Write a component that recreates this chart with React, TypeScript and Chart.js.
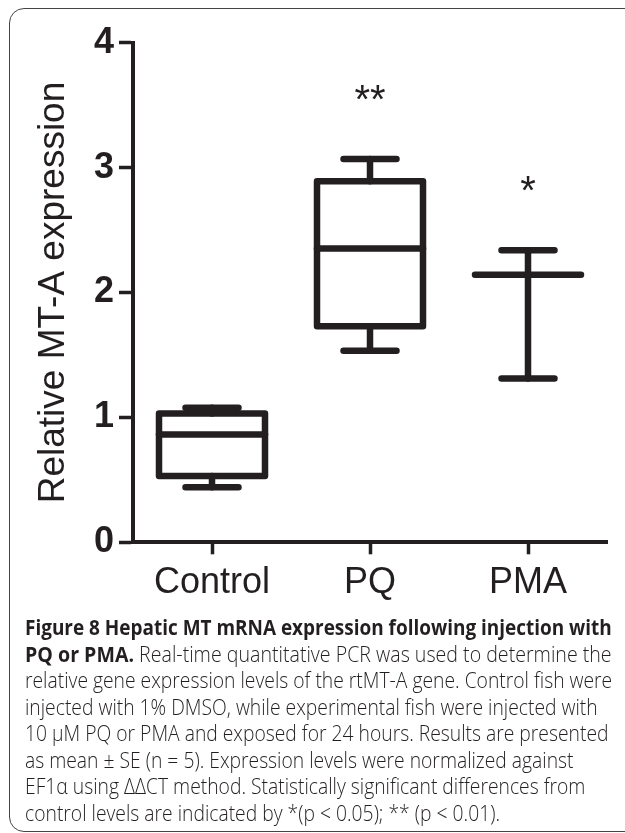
import React, { useEffect, useLayoutEffect, useRef, useState } from "react";
import { Chart, registerables } from "chart.js";

Chart.register(...registerables);

// ---- data ----
const categories = ["Control", "PQ", "PMA"];
const whiskerMin = [0.44, 1.533, 1.312];
const quartile1 = [0.53, 1.73, 2.142];
const median = [0.864, 2.352, 2.142];
const quartile3 = [1.032, 2.89, 2.142];
const whiskerMax = [1.078, 3.069, 2.338];
const significance = ["", "**", "*"];
const yAxisTitle = "Relative MT-A expression";

const INK = "#231f20";
const FONT = "'Liberation Sans', Arial, Helvetica, sans-serif";
const CAPTION_FONT = "'Open Sans', 'Noto Sans', sans-serif";

const boxWhiskerPlugin = {
  id: "boxWhisker",
  afterDatasetsDraw(chart: any) {
    const ctx = chart.ctx as CanvasRenderingContext2D;
    const y = chart.scales.y;
    const meta = chart.getDatasetMeta(0);
    ctx.save();
    ctx.strokeStyle = INK;
    ctx.fillStyle = INK;
    ctx.lineWidth = 6.5;
    ctx.lineJoin = "round";
    ctx.lineCap = "round";
    meta.data.forEach((bar: any, i: number) => {
      const { x, width } = bar.getProps(["x", "width"], true);
      const half = width / 2;
      const pMin = y.getPixelForValue(whiskerMin[i]);
      const pQ1 = y.getPixelForValue(quartile1[i]);
      const pMed = y.getPixelForValue(median[i]);
      const pQ3 = y.getPixelForValue(quartile3[i]);
      const pMax = y.getPixelForValue(whiskerMax[i]);
      // whiskers
      ctx.beginPath();
      ctx.moveTo(x, pQ3);
      ctx.lineTo(x, pMax);
      ctx.moveTo(x, pQ1);
      ctx.lineTo(x, pMin);
      ctx.stroke();
      // caps
      ctx.beginPath();
      ctx.moveTo(x - half / 2, pMax);
      ctx.lineTo(x + half / 2, pMax);
      ctx.moveTo(x - half / 2, pMin);
      ctx.lineTo(x + half / 2, pMin);
      ctx.stroke();
      // box
      if (pQ1 - pQ3 > 0.5) {
        ctx.strokeRect(x - half, pQ3, width, pQ1 - pQ3);
      }
      // median
      ctx.beginPath();
      ctx.moveTo(x - half, pMed);
      ctx.lineTo(x + half, pMed);
      ctx.stroke();
      // significance
      if (significance[i]) {
        ctx.font = `40px ${FONT}`;
        ctx.textAlign = "center";
        ctx.textBaseline = "alphabetic";
        ctx.fillText(significance[i], x, pMax - 46);
      }
    });
    ctx.restore();
  },
};

const captionLines: { bold?: string; text?: string }[] = [
  { bold: "Figure 8 Hepatic MT mRNA expression following injection with" },
  { bold: "PQ or PMA.", text: " Real-time quantitative PCR was used to determine the" },
  { text: "relative gene expression levels of the rtMT-A gene. Control fish were" },
  { text: "injected with 1% DMSO, while experimental fish were injected with" },
  { text: "10 μM PQ or PMA and exposed for 24 hours. Results are presented" },
  { text: "as mean ± SE (n = 5). Expression levels were normalized against" },
  { text: "EF1α using ΔΔCT method. Statistically significant differences from" },
  { text: "control levels are indicated by *(p < 0.05); ** (p < 0.01)." },
];

export default function App() {
  const canvasRef = useRef<HTMLCanvasElement | null>(null);
  const lineRefs = useRef<(HTMLSpanElement | null)[]>([]);
  const [scales, setScales] = useState<number[]>(captionLines.map(() => 1));

  useLayoutEffect(() => {
    const regular = lineRefs.current[2];
    const boldLine = lineRefs.current[0];
    const mixed = lineRefs.current[1];
    const kReg = regular ? 587 / regular.offsetWidth : 1;
    const kBold = boldLine ? 587 / boldLine.offsetWidth : 1;
    const kMixed = mixed ? 587 / mixed.offsetWidth : 1;
    setScales(captionLines.map((_, i) => (i === 0 ? kBold : i === 1 ? kMixed : kReg)));
  }, []);

  useEffect(() => {
    if (!canvasRef.current) return;
    const chart = new Chart(canvasRef.current, {
      type: "bar",
      data: {
        labels: categories,
        datasets: [
          {
            label: "box",
            data: categories.map((_, i) => [quartile1[i], quartile3[i]]) as any,
            backgroundColor: "rgba(0,0,0,0)",
            borderWidth: 0,
            barThickness: 106,
          },
        ],
      },
      options: {
        responsive: false,
        maintainAspectRatio: false,
        animation: false,
        layout: { padding: { left: 0, right: 18, top: 42.7, bottom: 12.7 } },
        plugins: {
          legend: { display: false },
          tooltip: { enabled: false },
          title: { display: false },
        },
        scales: {
          x: {
            type: "category",
            offset: true,
            grid: {
              offset: false,
              drawOnChartArea: false,
              drawTicks: true,
              tickLength: 12,
              tickWidth: 3.5,
              color: INK,
            },
            border: { display: true, width: 4, color: INK },
            ticks: { font: { family: FONT, size: 36 }, color: INK, padding: 7 },
            afterFit: (s: any) => {
              s.height = 60;
            },
          },
          y: {
            min: 0,
            max: 4,
            ticks: {
              stepSize: 1,
              font: { family: FONT, size: 36, weight: "bold" },
              color: INK,
              padding: 5,
            },
            grid: {
              drawOnChartArea: false,
              drawTicks: true,
              tickLength: 14,
              tickWidth: 3.5,
              color: INK,
            },
            border: { display: true, width: 4, color: INK },
            title: {
              display: true,
              text: yAxisTitle,
              font: { family: FONT, size: 37 },
              color: INK,
              padding: { top: 32, bottom: 0 },
            },
            afterFit: (s: any) => {
              s.width = 133;
            },
          },
        },
      } as any,
      plugins: [boxWhiskerPlugin],
    });
    return () => chart.destroy();
  }, []);

  return (
    <div
      style={{
        position: "fixed",
        left: 0,
        top: 0,
        width: 625,
        height: 833,
        overflow: "hidden",
        background: "#fff",
      }}
    >
      <div
        style={{
          position: "absolute",
          left: 9,
          top: 8,
          width: 700,
          height: 824,
          boxSizing: "border-box",
          border: "1.5px solid #444",
          borderRadius: 15,
        }}
      />
      <canvas
        ref={canvasRef}
        width={625}
        height={615}
        style={{ position: "absolute", left: 0, top: 0, width: 625, height: 615 }}
      />
      <div
        style={{
          position: "absolute",
          left: 25,
          top: 614,
          fontFamily: CAPTION_FONT,
          fontSize: 21.5,
          lineHeight: "26.5px",
          color: INK,
        }}
      >
        {captionLines.map((ln, i) => (
          <div key={i} style={{ whiteSpace: "nowrap", height: 26.5 }}>
            <span
              ref={(el) => {
                lineRefs.current[i] = el;
              }}
              style={{
                display: "inline-block",
                transform: `scaleX(${scales[i]})`,
                transformOrigin: "0 0",
              }}
            >
              {ln.bold ? <b style={{ fontWeight: 700 }}>{ln.bold}</b> : null}
              {ln.text ? <span style={{ fontWeight: 300 }}>{ln.text}</span> : null}
            </span>
          </div>
        ))}
      </div>
    </div>
  );
}
